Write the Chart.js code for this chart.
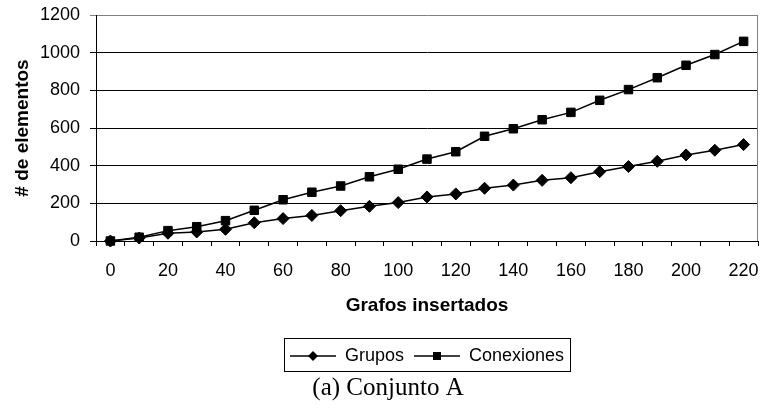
<!DOCTYPE html>
<html>
<head>
<meta charset="utf-8">
<script src="https://cdn.jsdelivr.net/npm/chart.js@4/dist/chart.umd.min.js"></script>
<style>
  html, body { margin: 0; padding: 0; background: #fff; }
  #caja { width: 765px; height: 409px; }
</style>
</head>
<body>
<div id="caja"><canvas id="graf" width="765" height="409"></canvas></div>
<script>
// datos
let categorias = ['0','10','20','30','40','50','60','70','80','90','100','110','120','130','140','150','160','170','180','190','200','210','220'];
let grupos = [0,16,41,48,62,97,119,136,161,184,204,234,250,280,297,322,336,368,395,423,457,482,512];
let conexiones = [0,20,55,76,108,163,219,259,292,341,381,435,474,556,596,644,683,747,804,867,933,990,1060];
let ticksY = [0,200,400,600,800,1000,1200];

Chart.defaults.font.family = "'Liberation Sans', Arial, sans-serif";
Chart.defaults.color = '#000';

// icono de leyenda: linea con marcador
function icono(tipo){
  let c = document.createElement('canvas');
  c.width = 46; c.height = 14;
  let g = c.getContext('2d');
  g.strokeStyle = '#000';
  g.lineWidth = 1.5;
  g.beginPath(); g.moveTo(0, 7); g.lineTo(46, 7); g.stroke();
  g.fillStyle = '#000';
  g.beginPath();
  if (tipo == 'rombo'){
    g.moveTo(23, 2); g.lineTo(28, 7); g.lineTo(23, 12); g.lineTo(18, 7);
  } else {
    g.rect(19, 3, 8, 8);
  }
  g.fill();
  return c;
}
let iconos = [icono('rombo'), icono('cuadro')];

// borde gris a la derecha y caja de la leyenda
let extras = {
  id: 'extras',
  beforeDatasetsDraw(chart){
    let a = chart.chartArea, ctx = chart.ctx;
    ctx.save();
    ctx.strokeStyle = '#808080';
    ctx.lineWidth = 1;
    ctx.beginPath();
    ctx.moveTo(Math.round(a.right) - 0.5, a.top);
    ctx.lineTo(Math.round(a.right) - 0.5, a.bottom);
    ctx.stroke();
    ctx.restore();
  },
  afterDraw(chart){
    let cajas = chart.legend.legendHitBoxes;
    if (!cajas || !cajas.length) return;
    let x1 = Infinity, y1 = Infinity, x2 = -Infinity, y2 = -Infinity;
    cajas.forEach(function(b){
      x1 = Math.min(x1, b.left); y1 = Math.min(y1, b.top);
      x2 = Math.max(x2, b.left + b.width); y2 = Math.max(y2, b.top + b.height);
    });
    let ctx = chart.ctx;
    ctx.save();
    ctx.strokeStyle = '#000';
    ctx.lineWidth = 1;
    let top = Math.round(y1 - 9) + 0.5, bot = Math.round(y2 + 6) + 0.5;
    ctx.strokeRect(Math.round(x1 - 6) + 0.5, top, Math.round(x2 - x1 + 12), bot - top);
    ctx.restore();
  }
};

let ctx = document.getElementById('graf').getContext('2d');
let graf = new Chart(ctx, {
  type: 'line',
  data: {
    labels: categorias,
    datasets: [{
      label: 'Grupos',
      data: grupos,
      borderColor: '#000',
      backgroundColor: '#000',
      borderWidth: 1.5,
      pointStyle: 'rectRot',
      pointRadius: 6,
      pointHoverRadius: 6,
      pointBorderWidth: 1,
      pointBackgroundColor: '#000',
      tension: 0,
      clip: false
    }, {
      label: 'Conexiones',
      data: conexiones,
      borderColor: '#000',
      backgroundColor: '#000',
      borderWidth: 1.5,
      pointStyle: 'rect',
      pointRadius: 6,
      pointHoverRadius: 6,
      pointBorderWidth: 1,
      pointBackgroundColor: '#000',
      tension: 0,
      clip: false
    }]
  },
  options: {
    responsive: false,
    animation: false,
    layout: { padding: { left: 13, right: 2, top: 15, bottom: 0 } },
    plugins: {
      tooltip: { enabled: false },
      legend: {
        position: 'bottom',
        fullSize: false,
        labels: {
          font: { size: 18 },
          color: '#000',
          usePointStyle: true,
          pointStyleWidth: 46,
          boxHeight: 14,
          padding: 10,
          generateLabels: function(chart){
            let items = Chart.defaults.plugins.legend.labels.generateLabels(chart);
            items.forEach(function(it, i){ it.pointStyle = iconos[i]; });
            return items;
          }
        }
      },
      title: {
        display: true,
        position: 'bottom',
        text: '(a) Conjunto A',
        color: '#000',
        font: { family: "'Liberation Serif', 'Times New Roman', serif", size: 25, weight: 'normal' },
        padding: { top: -2, bottom: 6 }
      }
    },
    scales: {
      x: {
        offset: true,
        grid: { offset: true, drawOnChartArea: false, drawTicks: true, tickLength: 5, color: '#000' },
        border: { color: '#000', width: 1 },
        ticks: {
          autoSkip: false,
          maxRotation: 0,
          padding: 14,
          font: { size: 18 },
          callback: function(v, i){ return i % 2 == 0 ? categorias[i] : ''; }
        },
        title: {
          display: true,
          text: 'Grafos insertados',
          font: { size: 19, weight: 'bold' },
          padding: { top: 10, bottom: 20 }
        },
        afterFit: function(s){ s.height = 96; s.paddingLeft = 0; s.paddingRight = 0; }
      },
      y: {
        min: 0,
        max: 1200,
        afterBuildTicks: function(s){ s.ticks = ticksY.map(function(v){ return { value: v }; }); },
        grid: {
          tickLength: 6,
          color: function(c){ return c.tick && c.tick.value == 1200 ? '#808080' : '#000'; }
        },
        border: { color: '#000', width: 1 },
        ticks: {
          padding: 10,
          font: { size: 18 },
          callback: function(v){ return String(v); }
        },
        title: {
          display: true,
          text: '# de elementos',
          font: { size: 19, weight: 'bold' },
          padding: { top: -2, bottom: 0 }
        },
        afterFit: function(s){ s.width = 83; s.paddingTop = 0; s.paddingBottom = 0; }
      }
    }
  },
  plugins: [extras]
});
</script>
</body>
</html>
